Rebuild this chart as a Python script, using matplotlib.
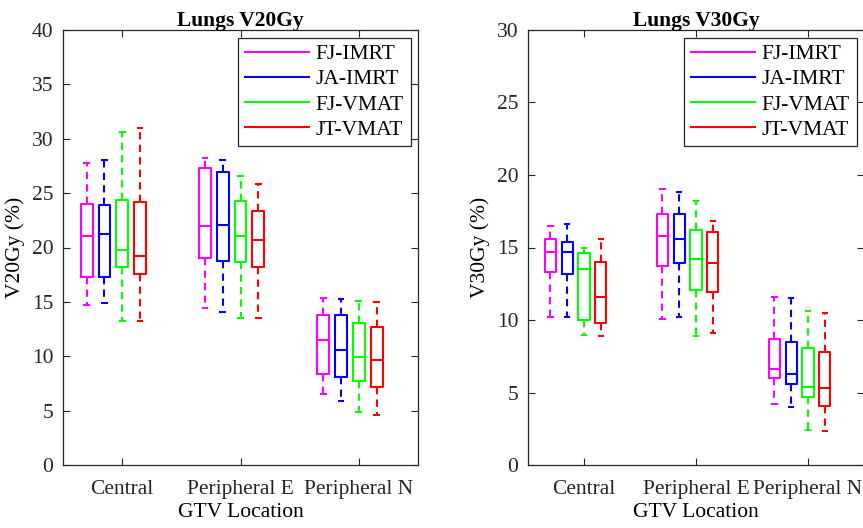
import numpy as np
import matplotlib
matplotlib.use("Agg")
import matplotlib.pyplot as plt
from matplotlib.lines import Line2D

plt.rcParams['font.family'] = ['Liberation Serif', 'DejaVu Serif']

groups = ["Central", "Peripheral E", "Peripheral N"]
plans = ["FJ-IMRT", "JA-IMRT", "FJ-VMAT", "JT-VMAT"]
colors = ["#FF00FF", "#0000FF", "#00FF00", "#FF0000"]

# each entry: [whisker low, q1, median, q3, whisker high], rows = plans, per group
v20_central = [[14.7, 17.3, 21.1, 24.0, 27.8],
               [14.9, 17.3, 21.2, 23.9, 28.0],
               [13.2, 18.2, 19.8, 24.4, 30.6],
               [13.2, 17.6, 19.2, 24.2, 31.0]]
v20_periph_e = [[14.4, 19.0, 22.0, 27.3, 28.2],
                [14.1, 18.8, 22.1, 26.9, 28.0],
                [13.5, 18.7, 21.1, 24.3, 26.6],
                [13.5, 18.2, 20.7, 23.4, 25.8]]
v20_periph_n = [[6.5, 8.4, 11.5, 13.8, 15.4],
                [5.9, 8.1, 10.6, 13.8, 15.3],
                [4.9, 7.7, 9.9, 13.1, 15.1],
                [4.6, 7.2, 9.7, 12.7, 15.0]]

v30_central = [[10.2, 13.3, 14.7, 15.6, 16.5],
               [10.2, 13.2, 14.7, 15.4, 16.6],
               [9.0, 10.0, 13.5, 14.6, 15.0],
               [8.9, 9.8, 11.6, 14.0, 15.6]]
v30_periph_e = [[10.1, 13.7, 15.8, 17.3, 19.0],
                [10.2, 13.9, 15.6, 17.3, 18.8],
                [8.9, 12.1, 14.2, 16.2, 18.2],
                [9.1, 11.9, 13.9, 16.1, 16.8]]
v30_periph_n = [[4.2, 6.0, 6.6, 8.7, 11.6],
                [4.0, 5.6, 6.3, 8.5, 11.5],
                [2.4, 4.7, 5.4, 8.1, 10.6],
                [2.35, 4.1, 5.3, 7.8, 10.5]]

offsets = [-0.3, -0.15, 0.0, 0.15]


def draw_panel(ax, data, title, ylabel, ymax, yticks):
    for g, grp in enumerate(data):
        for p, vals in enumerate(grp):
            lo, q1, med, q3, hi = vals
            st = dict(whislo=lo, q1=q1, med=med, q3=q3, whishi=hi, fliers=[])
            c = colors[p]
            ax.bxp([st], positions=[g + 1 + offsets[p]], widths=0.1,
                   showfliers=False, patch_artist=False,
                   boxprops=dict(color=c, lw=1.5),
                   medianprops=dict(color=c, lw=1.5),
                   whiskerprops=dict(color=c, lw=1.5, linestyle=(0, (3.5, 2.5))),
                   capprops=dict(color=c, lw=1.5), capwidths=0.04)
    ax.set_xlim(0.5, 3.5)
    ax.set_ylim(0, ymax)
    ax.set_yticks(yticks)
    ax.set_xticks([1, 2, 3])
    ax.set_xticklabels(groups)
    ax.tick_params(direction='in', length=5, top=True, right=True,
                   labelsize=15.5, colors='#262626')
    ax.tick_params(axis='x', pad=11)
    ax.tick_params(axis='y', pad=7)
    for s in ax.spines.values():
        s.set_color('#262626')
        s.set_linewidth(0.9)
    ax.set_title(title, fontsize=15.5, fontweight='bold', pad=3)
    ax.set_ylabel(ylabel, fontsize=15.5, labelpad=5)
    ax.set_xlabel("GTV Location", fontsize=15.5, labelpad=3)
    handles = [Line2D([], [], color=c, lw=1.5) for c in colors]
    leg = ax.legend(handles, plans, loc='upper right', fontsize=15.5,
                    handlelength=3.0, handletextpad=0.3, borderpad=0.3,
                    labelspacing=0.24, fancybox=False, framealpha=1,
                    borderaxespad=0.35)
    leg.get_frame().set_edgecolor('#262626')
    leg.get_frame().set_linewidth(0.9)


fig = plt.figure(figsize=(8.63, 5.28), dpi=100)
ax1 = fig.add_axes([0.073, 0.1193, 0.4114, 0.8239])
ax2 = fig.add_axes([0.6118, 0.1193, 0.3894, 0.8239])

draw_panel(ax1, [v20_central, v20_periph_e, v20_periph_n],
           "Lungs V20Gy", "V20Gy (%)", 40, np.arange(0, 41, 5))
draw_panel(ax2, [v30_central, v30_periph_e, v30_periph_n],
           "Lungs V30Gy", "V30Gy (%)", 30, np.arange(0, 31, 5))

fig.savefig("out.png", dpi=100)
